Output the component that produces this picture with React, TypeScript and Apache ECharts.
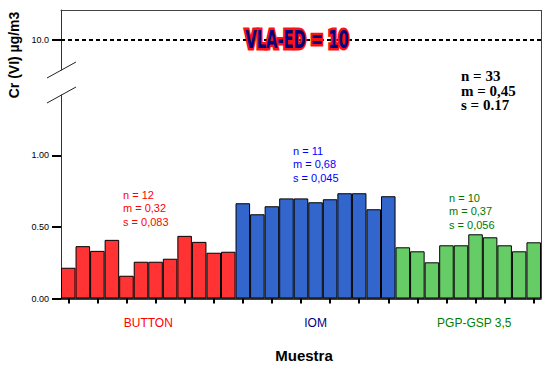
import React, { useEffect, useRef } from "react";
import * as echarts from "echarts";

const categories = ["1","2","3","4","5","6","7","8","9","10","11","12","13","14","15","16","17","18","19","20","21","22","23","24","25","26","27","28","29","30","31","32","33"];
const groupNames = ["BUTTON", "IOM", "PGP-GSP 3,5"];
const buttonValues = [0.215, 0.366, 0.333, 0.41, 0.159, 0.257, 0.257, 0.278, 0.438, 0.396, 0.32, 0.327];
const iomValues = [0.666, 0.589, 0.645, 0.7, 0.7, 0.673, 0.694, 0.736, 0.736, 0.624, 0.715];
const pgpValues = [0.358, 0.33, 0.253, 0.372, 0.372, 0.449, 0.428, 0.372, 0.33, 0.393];
const groupStats = [
  "n = 12\nm = 0,32\ns = 0,083",
  "n = 11\nm = 0,68\ns = 0,045",
  "n = 10\nm = 0,37\ns = 0,056",
];
const totalStats = ["n = 33", "m = 0,45", "s = 0.17"];
const limitValue = 10;
const limitLabel = "VLA-ED = 10";
const lowerTicks = [0, 0.5, 1.0];
const upperTicks = [10];
const yAxisName = "Cr (VI) µg/m3";
const xAxisName = "Muestra";

const barColors = ["#FF3333", "#3366CC", "#66CC66"];
const labelColors = ["#FF0000", "#000080", "#008000"];
const statColors = ["#FF0000", "#0000FF", "#007700"];

export default function App() {
  const ref = useRef<HTMLDivElement>(null);
  useEffect(() => {
    if (!ref.current) return;
    const chart = echarts.init(ref.current, null, { renderer: "svg" });
    const groups = [buttonValues, iomValues, pgpValues];
    let offset = 0;
    const seriesData = groups.map((vals) => {
      const arr: (number | null)[] = categories.map(() => null);
      vals.forEach((v, i) => (arr[offset + i] = v));
      offset += vals.length;
      return arr;
    });
    const font = "Arial, 'Liberation Sans', sans-serif";
    const staticGraphics: any[] = [
      { id: "rightBorder", type: "line", shape: { x1: 541.5, y1: 10, x2: 541.5, y2: 298.5 }, style: { stroke: "#444", lineWidth: 1 } },
      { id: "brk1", type: "line", shape: { x1: 47, y1: 78, x2: 76, y2: 62 }, style: { stroke: "#222", lineWidth: 1 } },
      { id: "brk2", type: "line", shape: { x1: 47, y1: 103, x2: 76, y2: 87 }, style: { stroke: "#222", lineWidth: 1 } },
      {
        id: "yname", type: "text", x: 14, y: 55, rotation: Math.PI / 2,
        style: { text: yAxisName, font: "bold 14px " + font, fill: "#000", textAlign: "center", textVerticalAlign: "middle" },
      },
      {
        id: "xname", type: "text", x: 304, y: 355,
        style: { text: xAxisName, font: "bold 15px " + font, fill: "#000", textAlign: "center", textVerticalAlign: "middle" },
      },
      {
        id: "title", type: "text", x: 297, y: 40, z: 100, scaleX: 0.68,
        style: {
          text: limitLabel, font: "bold 24px 'Liberation Sans Narrow', 'DejaVu Sans Condensed', sans-serif",
          fill: "#000080", stroke: "#FF1010", lineWidth: 5, textAlign: "center", textVerticalAlign: "middle",
          shadowBlur: 3, shadowColor: "rgba(0,0,0,0.35)", shadowOffsetX: 2, shadowOffsetY: 2,
        },
      },
      ...totalStats.map((t, i) => ({
        id: "total" + i, type: "text", x: 461, y: 76 + i * 14.5,
        style: { text: t, font: "bold 15px 'Liberation Serif', 'Times New Roman', serif", fill: "#000", textAlign: "left", textVerticalAlign: "middle" },
      })),
      {
        id: "s0", type: "text", x: 123, y: 188,
        style: { text: groupStats[0], font: "11px " + font, fill: statColors[0], lineHeight: 13.5 },
      },
      {
        id: "s1", type: "text", x: 293, y: 144,
        style: { text: groupStats[1], font: "11px " + font, fill: statColors[1], lineHeight: 13.5 },
      },
      {
        id: "s2", type: "text", x: 449, y: 191,
        style: { text: groupStats[2], font: "11px " + font, fill: statColors[2], lineHeight: 13.5 },
      },
    ];

    chart.setOption({
      animation: false,
      backgroundColor: "#fff",
      grid: [
        { left: 61, right: 11, top: 10, height: 60 },
        { left: 61, right: 11, top: 95, bottom: 73.5 },
      ],
      xAxis: [
        {
          type: "category", gridIndex: 0, data: categories, position: "top",
          axisLine: { show: true, lineStyle: { color: "#444", width: 1 } },
          axisTick: { show: false }, axisLabel: { show: false }, splitLine: { show: false },
        },
        {
          type: "category", gridIndex: 1, data: categories,
          axisLine: { show: true, lineStyle: { color: "#000", width: 1.5 } },
          axisTick: { show: true, alignWithLabel: true, length: 5, lineStyle: { color: "#000", width: 2 } },
          axisLabel: { show: false }, splitLine: { show: false },
        },
      ],
      yAxis: [
        {
          type: "value", gridIndex: 0, min: 9.8, max: 10.2,
          axisLine: { show: true, lineStyle: { color: "#333", width: 1 } },
          axisTick: { show: true, length: 9, customValues: upperTicks, lineStyle: { color: "#000", width: 2 } },
          axisLabel: { show: true, customValues: upperTicks, margin: 12, fontSize: 9, fontFamily: font, color: "#000", formatter: (v: number) => v.toFixed(1) },
          splitLine: { show: false },
        },
        {
          type: "value", gridIndex: 1, min: 0, max: 1.423,
          axisLine: { show: true, lineStyle: { color: "#333", width: 1 } },
          axisTick: { show: true, length: 9, customValues: lowerTicks, lineStyle: { color: "#000", width: 2 } },
          axisLabel: { show: true, customValues: lowerTicks, margin: 12, fontSize: 9, fontFamily: font, color: "#000", formatter: (v: number) => v.toFixed(2) },
          splitLine: { show: false },
        },
      ],
      series: [
        {
          type: "line", xAxisIndex: 0, yAxisIndex: 0, data: [], silent: true,
          markLine: {
            silent: true, symbol: "none", label: { show: false },
            lineStyle: { color: "#000", width: 2, type: [4, 3] },
            data: [{ yAxis: limitValue }],
          },
        },
        ...seriesData.map((d, i) => ({
          type: "bar", name: groupNames[i], xAxisIndex: 1, yAxisIndex: 1, stack: "all",
          data: d, barWidth: "100%", barCategoryGap: 0,
          itemStyle: { color: barColors[i], borderColor: "#000", borderWidth: 1 },
        })),
      ],
      graphic: staticGraphics,
    });

    let start = 0;
    const labelGraphics = groups.map((vals, i) => {
      const first = chart.convertToPixel({ xAxisIndex: 1 }, start) as number;
      const last = chart.convertToPixel({ xAxisIndex: 1 }, start + vals.length - 1) as number;
      start += vals.length;
      return {
        id: "g" + i, type: "text", x: (first + last) / 2 + (i === 2 ? 6 : 0), y: 323,
        style: { text: groupNames[i], font: "12px " + font, fill: labelColors[i], textAlign: "center", textVerticalAlign: "middle" },
      };
    });
    chart.setOption({ graphic: [...staticGraphics, ...labelGraphics] });

    return () => chart.dispose();
  }, []);
  return <div ref={ref} style={{ position: "absolute", left: 0, top: 0, width: 552, height: 372 }} />;
}
